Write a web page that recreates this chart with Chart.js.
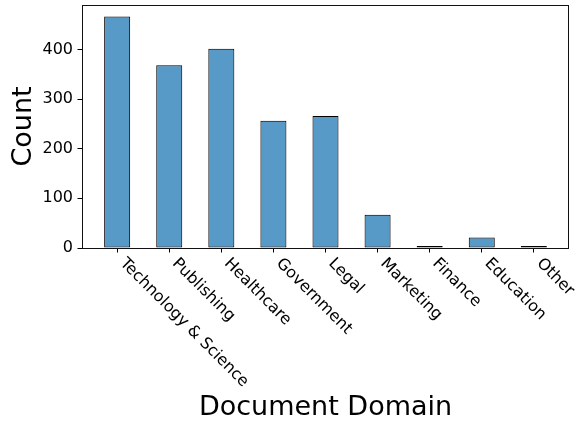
<!DOCTYPE html>
<html>
<head>
<meta charset="utf-8">
<script src="https://cdn.jsdelivr.net/npm/chart.js@4/dist/chart.umd.min.js"></script>
<style>
html,body{margin:0;padding:0;background:#fff;}
#c{display:block;}
</style>
</head>
<body>
<canvas id="c" width="579" height="430"></canvas>
<script>
const categories = ["Technology & Science","Publishing","Healthcare","Government","Legal","Marketing","Finance","Education","Other"];
const counts = [466, 368, 401, 256, 266, 67, 3, 21, 1];
const yTicks = [0, 100, 200, 300, 400];
const xTitle = "Document Domain";
const yTitle = "Count";

const FONT = "'DejaVu Sans', sans-serif";

const frameAndLabels = {
  id: 'frameAndLabels',
  afterDraw(chart) {
    const ctx = chart.ctx;
    const a = chart.chartArea;
    const xs = chart.scales.x;
    ctx.save();
    ctx.strokeStyle = '#111';
    ctx.lineWidth = 1;
    ctx.strokeRect(Math.round(a.left) + 0.5, Math.round(a.top) + 0.5, Math.round(a.right - a.left) - 1, Math.round(a.bottom - a.top));
    ctx.fillStyle = '#000';
    ctx.font = "16px " + FONT;
    ctx.textAlign = 'left';
    ctx.textBaseline = 'top';
    categories.forEach((c, i) => {
      const x = xs.getPixelForValue(i);
      ctx.save();
      ctx.translate(x + 11, a.bottom + 7.5);
      ctx.rotate(Math.PI / 4);
      ctx.fillText(c, 0, 0);
      ctx.restore();
    });
    ctx.restore();
  }
};

new Chart(document.getElementById('c'), {
  type: 'bar',
  data: {
    datasets: [{
      data: counts.map((v, i) => ({x: i, y: v})),
      backgroundColor: 'rgba(31,119,180,0.75)',
      borderColor: '#000',
      borderWidth: 1,
      borderSkipped: false,
      minBarLength: 2,
      barPercentage: 0.5,
      categoryPercentage: 1.0
    }]
  },
  options: {
    responsive: false,
    animation: false,
    layout: {padding: {left: 0, top: 5, right: 10, bottom: 0}},
    plugins: {legend: {display: false}, tooltip: {enabled: false}},
    scales: {
      x: {
        type: 'linear',
        offset: false,
        min: -0.675,
        max: categories.length - 1 + 0.675,
        afterBuildTicks: (s) => { s.ticks = categories.map((c, i) => ({value: i})); },
        afterFit: (s) => { s.height = 182; s.paddingLeft = 0; s.paddingRight = 0; },
        ticks: {display: false},
        grid: {display: true, offset: false, drawOnChartArea: false, drawTicks: true, tickLength: 4.5, color: '#000', lineWidth: 1},
        border: {display: false},
        title: {display: true, text: xTitle, color: '#000', font: {family: FONT, size: 27}, padding: {top: 0, bottom: 6}}
      },
      y: {
        min: 0,
        max: Math.max(...counts) * 1.05,
        afterBuildTicks: (s) => { s.ticks = yTicks.map(v => ({value: v})); },
        afterFit: (s) => { s.width = 82; s.paddingTop = 0; s.paddingBottom = 0; },
        ticks: {color: '#000', font: {family: FONT, size: 16}, padding: 4.5},
        grid: {display: true, drawOnChartArea: false, drawTicks: true, tickLength: 4.5, color: '#000', lineWidth: 1},
        border: {display: false},
        title: {display: true, text: yTitle, color: '#000', font: {family: FONT, size: 27}, padding: {top: 7.5, bottom: 7.5}}
      }
    }
  },
  plugins: [frameAndLabels]
});
</script>
</body>
</html>
